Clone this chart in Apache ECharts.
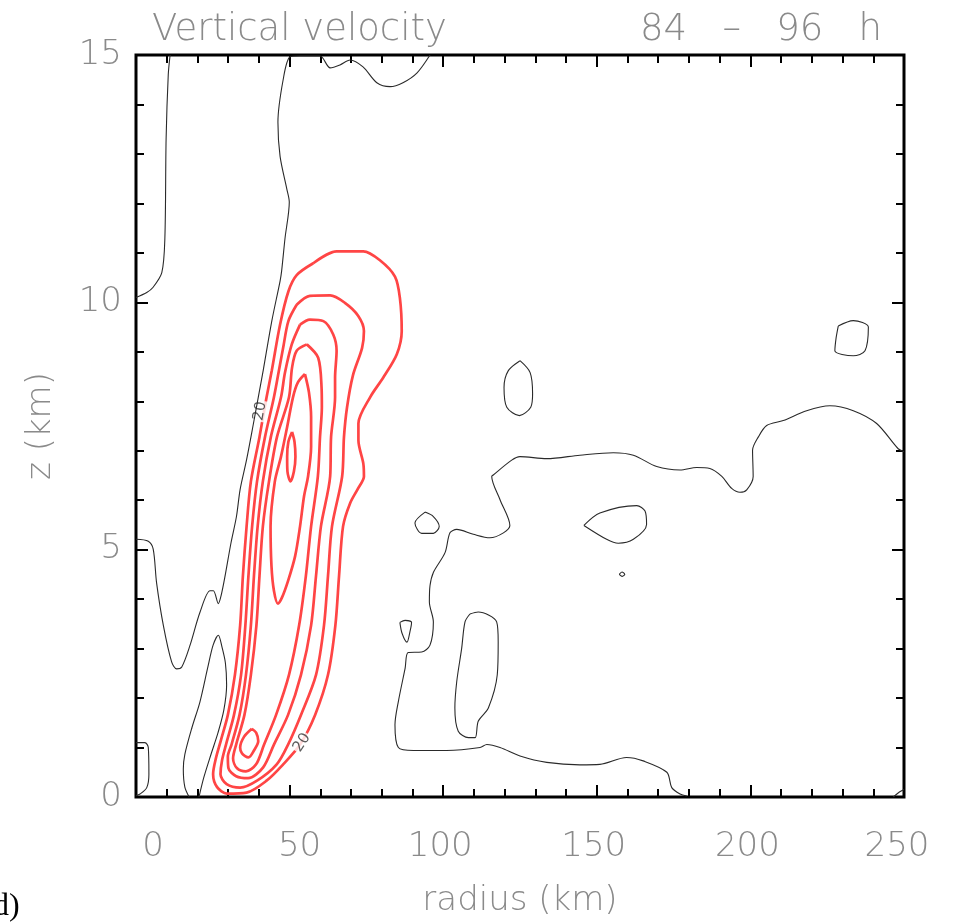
<!DOCTYPE html>
<html><head><meta charset="utf-8">
<script src="https://cdn.jsdelivr.net/npm/echarts@6/dist/echarts.min.js"></script>
<style>html,body{margin:0;padding:0;background:#fff}#c{width:957px;height:923px}</style>
</head><body><div id="c"></div>
<script>
// ---- texts ----
const titleLeft = 'Vertical velocity';
const titleRight = '84   –   96   h';
const xName = 'radius (km)';
const yName = 'z (km)';
const panelTag = 'd)';
// ---- axes ----
const xRange = [0, 250];
const yRange = [0, 15];
const xLabelValues = [0, 50, 100, 150, 200, 250];
const yLabelValues = [0, 5, 10, 15];
// ---- zero contour (black), [radius km, z km] ----
const zeroLeftTop = [[11.1,15.0],[10.5,14.6],[9.8,13.3],[9.4,11.3],[8.4,10.6],[5.5,10.3],[3.5,10.2],[0,10.1]];
const zeroMain = [[95.7,15.0],[91.5,14.64],[86.9,14.44],[82.7,14.36],[78.4,14.44],[73.9,14.76],[69.7,14.9],[66.4,14.8],[63.2,14.74],[59.9,14.98],[53.4,14.98],[50.1,14.96],[47.9,14.5],[46.2,13.64],[46.9,12.95],[49.1,12.29],[49.9,12.03],[48.5,11.29],[47.4,10.63],[46.9,10.43],[44.2,9.62],[41.4,8.62],[39.8,8.08],[38.2,7.54],[36.0,6.82],[33.9,6.22],[32.7,5.67],[30.9,5.13],[29.0,4.47],[27.7,4.07],[26.8,3.91],[25.2,4.17],[24.1,4.17],[20.8,3.73],[17.6,3.07],[14.9,2.63],[13.2,2.59],[11.6,2.73],[8.9,3.47],[6.7,4.33],[5.6,5.01],[4.0,5.17],[0,5.21]];
const zeroArch = [[17.3,0],[15.9,0.2],[15.4,0.56],[15.9,0.86],[18.2,1.4],[20.8,1.92],[23.4,2.63],[25.1,3.07],[26.8,3.27],[28.0,3.03],[29.1,2.71],[29.5,2.27],[28.6,1.76],[26.7,1.3],[24.4,0.86],[22.1,0.4],[20.5,0]];
const zeroCornerLeft = [[0,1.1],[2.9,1.1],[4.0,1.0],[4.2,0.46],[3.5,0.19],[1.3,0.06],[0,0.03]];
const zeroRight = [[250,6.98],[248.1,7.04],[241.1,7.55],[233.5,7.81],[225.9,7.91],[218.3,7.81],[210.7,7.61],[205.3,7.51],[202.6,7.28],[200.7,7.01],[200.9,6.48],[198.8,6.21],[196.6,6.16],[193.9,6.24],[190.7,6.48],[186.8,6.64],[182.5,6.66],[177.1,6.61],[169.5,6.68],[161.9,6.91],[155.4,6.96],[144.5,6.91],[133.7,6.84],[125.0,6.88],[122.3,6.81],[116.3,6.51],[115.8,6.48],[118.5,6.01],[121.7,5.49],[119.6,5.34],[115.2,5.24],[109.8,5.31],[104.4,5.41],[102.2,5.34],[100.6,4.94],[96.8,4.54],[95.7,4.27],[95.5,3.94],[96.8,3.54],[95.7,3.07],[93.0,2.93],[88.6,2.92],[87.6,2.60],[85.4,1.93],[84.3,1.46],[85.4,1.00],[90.3,0.94],[101.1,0.94],[112.0,1.00],[114.2,1.06],[118.5,1.00],[125.0,0.83],[133.7,0.70],[144.5,0.65],[151.0,0.66],[159.7,0.80],[165.1,0.73],[172.8,0.50],[174.4,0.19],[177.1,0.06],[179.3,0.02]];
const zeroCornerRight = [[246.5,0],[248.5,0.1],[250,0.15]];
const zeroOvalA = [[125.0,8.82],[128.3,8.58],[129.1,8.15],[128.5,7.88],[124.8,7.71],[120.7,7.88],[119.8,8.28],[121.2,8.62],[125.0,8.82]];
const zeroRing = [[94.1,5.76],[96.8,5.67],[98.7,5.47],[96.8,5.33],[93.0,5.33],[90.8,5.54],[94.1,5.76]];
const zeroTriangle = [[85.9,3.53],[87.6,3.57],[89.7,3.53],[89.2,3.35],[88.2,3.13],[86.6,3.31],[85.9,3.53]];
const zeroLong = [[108.7,3.70],[111.4,3.74],[117.4,3.54],[117.9,3.13],[117.6,2.47],[114.7,1.80],[111.4,1.53],[110.4,1.20],[108.2,1.20],[104.9,1.33],[103.8,1.80],[104.4,2.33],[106.0,3.00],[107.1,3.54],[108.7,3.70]];
const zeroOvalB = [[145.8,5.49],[151.0,5.74],[163.0,5.89],[165.7,5.78],[166.2,5.51],[161.9,5.21],[157.0,5.13],[153.2,5.21],[145.8,5.49]];
const zeroDot = [[157.3,4.5],[158.2,4.55],[159.1,4.5],[158.2,4.46],[157.3,4.5]];
const zeroOvalC = [[228.6,9.52],[233.5,9.63],[238.4,9.50],[237.3,9.02],[233.5,8.92],[227.5,9.02],[227.9,9.28],[228.6,9.52]];
// ---- positive contours (red) ----
const level1 = [[57.7,10.79],[65.3,11.03],[74.0,11.03],[79.4,10.85],[84.3,10.52],[85.9,10.09],[86.5,9.42],[84.9,8.95],[80.5,8.48],[76.2,8.08],[72.4,7.55],[72.4,7.21],[74.0,6.74],[74.2,6.48],[72.3,6.24],[69.7,5.94],[67.4,5.47],[66.1,4.47],[64.9,3.47],[62.5,2.47],[58.3,1.66],[53.4,1.06],[47.9,0.66],[42.5,0.33],[36.0,0.09],[29.6,0.07],[26.4,0.20],[25.1,0.46],[26.0,0.78],[27.7,1.16],[29.9,1.66],[32.2,2.47],[33.9,3.47],[34.8,4.47],[36.0,5.47],[37.4,6.38],[40.2,7.28],[42.5,8.08],[44.2,8.62],[46.9,9.55],[49.6,10.22],[52.3,10.55],[57.7,10.79]];
const level2 = [[52.3,9.95],[56.6,10.13],[63.2,10.14],[68.0,9.99],[72.3,9.73],[74.2,9.42],[73.6,9.08],[70.6,8.52],[68.7,7.88],[67.7,7.28],[67.1,6.48],[63.8,5.47],[62.5,4.47],[61.2,3.47],[58.6,2.47],[53.7,1.66],[49.5,1.06],[45.8,0.66],[39.4,0.33],[33.9,0.19],[29.5,0.26],[27.5,0.46],[28.0,0.74],[29.3,1.06],[31.9,1.66],[34.2,2.47],[35.6,3.47],[36.6,4.47],[37.8,5.47],[39.4,6.38],[42.0,7.28],[44.9,8.08],[46.9,8.75],[47.9,9.08],[49.6,9.62],[52.3,9.95]];
const level3 = [[53.4,9.55],[56.6,9.65],[61.0,9.62],[64.2,9.35],[65.3,9.02],[64.8,8.48],[64.8,8.08],[63.5,7.28],[63.2,6.48],[60.2,5.47],[58.6,4.47],[57.0,3.47],[53.7,2.47],[49.5,1.66],[44.9,1.06],[41.4,0.60],[36.5,0.38],[32.6,0.42],[30.1,0.58],[29.9,0.82],[31.1,1.06],[33.7,1.66],[35.8,2.47],[37.4,3.47],[38.4,4.47],[39.6,5.47],[41.3,6.38],[43.9,7.28],[47.2,8.08],[48.5,8.58],[50.7,9.15],[53.4,9.55]];
const level4 = [[55.6,9.15],[59.3,8.88],[60.4,8.28],[60.5,7.88],[59.9,7.28],[59.2,6.48],[57.0,5.47],[55.3,4.47],[53.1,3.47],[49.8,2.47],[45.6,1.66],[41.7,1.06],[39.1,0.66],[35.8,0.52],[32.9,0.58],[31.6,0.78],[32.6,1.06],[35.3,1.66],[37.4,2.47],[39.2,3.47],[40.2,4.47],[41.3,5.47],[43.3,6.38],[45.9,7.28],[49.8,8.08],[50.8,8.68],[52.3,9.02],[55.6,9.15]];
const level5Upper = [[55.0,8.55],[56.3,8.18],[57.0,7.68],[57.0,7.08],[56.0,6.48],[54.7,6.08],[53.4,5.47],[51.8,4.87],[49.5,4.37],[47.5,4.03],[46.2,3.91],[44.9,4.17],[44.1,4.67],[43.8,5.47],[45.2,6.38],[47.2,6.88],[49.2,7.48],[51.1,8.08],[52.7,8.38],[55.0,8.55]];
const level5Lower = [[37.7,1.38],[39.1,1.30],[39.8,1.13],[38.4,0.94],[36.6,0.80],[34.5,0.88],[33.9,1.00],[35.2,1.22],[37.7,1.38]];
const level6 = [[50.8,7.38],[51.6,7.18],[51.9,6.88],[51.4,6.58],[50.3,6.38],[49.3,6.58],[49.2,6.88],[49.6,7.18],[50.8,7.38]];
// contour labels: [radius, z, angle, text]
const contourLabels = [[40.4, 7.80, 80, '20'], [54.0, 1.10, 57, '20']];

const blackSet = [zeroLeftTop, zeroMain, zeroArch, zeroCornerLeft, zeroRight, zeroCornerRight, zeroOvalA, zeroRing, zeroTriangle, zeroLong, zeroOvalB, zeroDot, zeroOvalC];
const redSet = [level1, level2, level3, level4, level5Upper, level5Lower, level6];

const GRAY = '#8a8a8a';
const FONT = 'DejaVu Sans';
const W = 200;
const chart = echarts.init(document.getElementById('c'), null, {renderer: 'canvas'});

function contour(data, color, width, z) {
  return {type: 'line', data: data, symbol: 'none', showSymbol: false, smooth: 0.3,
    lineStyle: {color: color, width: width}, z: z, silent: true, animation: false, clip: true};
}
const tickStyle = {color: '#000', width: 2};
function rs(pad) { return {padding: pad, fontSize: 34, fontFamily: FONT, fontWeight: W, color: GRAY}; }
function xAx(pos, showLabel) {
  return {type: 'value', position: pos, min: xRange[0], max: xRange[1], interval: 50,
    axisLine: {show: false, onZero: false}, splitLine: {show: false},
    axisTick: {show: true, inside: true, length: 12, lineStyle: tickStyle},
    minorTick: {show: true, splitNumber: 5, length: 8, lineStyle: tickStyle},
    axisLabel: showLabel ? {show: true, margin: 33, fontSize: 34, fontFamily: FONT, fontWeight: W, color: GRAY,
      formatter: function (v) {
        if (xLabelValues.indexOf(v) < 0) return '';
        if (v === 0) return '{a|0}';
        if (v === 50) return '{b|50}';
        if (v === 250) return '{c|250}';
        return '{n|' + v + '}';
      },
      rich: {a: rs([0, 0, 0, 34]), b: rs([0, 0, 0, 20]), c: rs([0, 14, 0, 0]), n: rs([0, 6, 0, 0])}
    } : {show: false},
    name: showLabel ? xName : '', nameLocation: 'middle', nameGap: 87,
    nameTextStyle: {fontSize: 34, fontFamily: FONT, fontWeight: W, color: GRAY}};
}
function yAx(pos, showLabel) {
  return {type: 'value', position: pos, min: yRange[0], max: yRange[1], interval: 5,
    axisLine: {show: false, onZero: false}, splitLine: {show: false},
    axisTick: {show: true, inside: true, length: 12, lineStyle: tickStyle},
    minorTick: {show: true, splitNumber: 5, length: 8, lineStyle: tickStyle},
    axisLabel: showLabel ? {show: true, margin: 14, fontSize: 34, fontFamily: FONT, fontWeight: W, color: GRAY,
      formatter: function (v) { return yLabelValues.indexOf(v) >= 0 ? String(v) : ''; }} : {show: false},
    name: showLabel ? yName : '', nameLocation: 'middle', nameGap: 78, nameRotate: 90,
    nameTextStyle: {fontSize: 34, fontFamily: FONT, fontWeight: W, color: GRAY}};
}

const series = [];
blackSet.forEach(function (d) { series.push(contour(d, '#2a2a2a', 1.1, 5)); });
redSet.forEach(function (d) { series.push(contour(d, '#ff4545', 2.7, 3)); });
series.push({type: 'scatter', z: 4, silent: true, animation: false, symbolSize: 0,
  data: contourLabels.map(function (l) {
    return {value: [l[0], l[1]], label: {show: true, position: 'inside', rotate: l[2], formatter: l[3],
      fontSize: 15, fontFamily: FONT, color: '#333', backgroundColor: '#fff', padding: [0, 1]}};
  })});

chart.setOption({
  animation: false,
  backgroundColor: '#fff',
  grid: {left: 136, top: 55, width: 768, height: 748, show: true, borderColor: '#000', borderWidth: 3, backgroundColor: 'transparent'},
  xAxis: [xAx('bottom', true), xAx('top', false)],
  yAxis: [yAx('left', true), yAx('right', false)],
  graphic: [
    {type: 'text', left: 152, top: 12, style: {text: titleLeft, fontSize: 37, fontFamily: FONT, fontWeight: W, fill: GRAY}},
    {type: 'text', right: 75, top: 12, style: {text: titleRight, fontSize: 37, fontFamily: FONT, fontWeight: W, fill: GRAY}},
    {type: 'text', left: -7, top: 891, style: {text: panelTag, fontSize: 32, fontFamily: 'Liberation Serif', fill: '#000'}}
  ],
  series: series
});
</script>
</body></html>
